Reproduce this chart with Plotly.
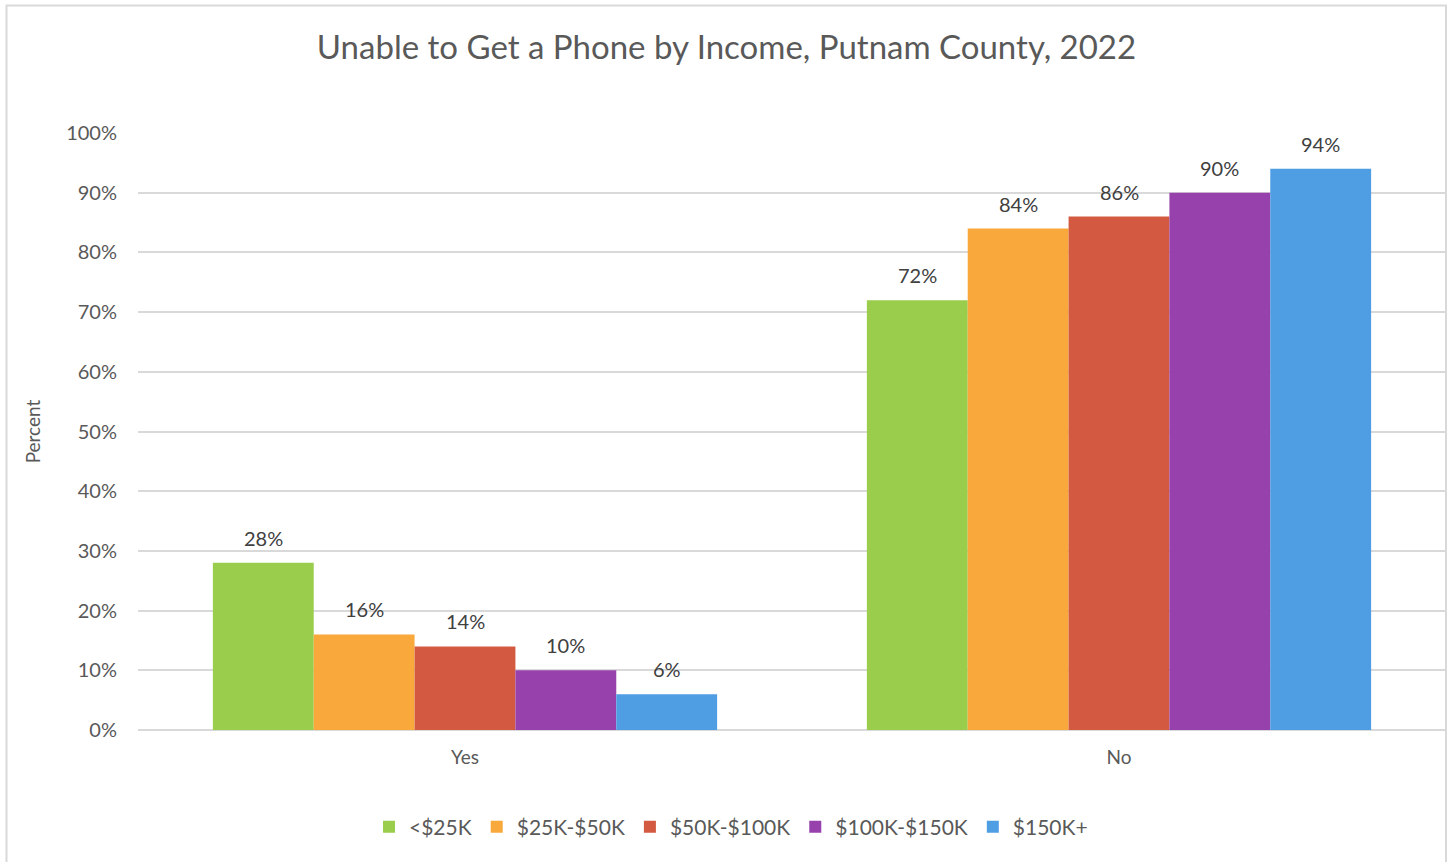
import plotly.graph_objects as go

categories = ["Yes", "No"]
series_names = ["<$25K", "$25K-$50K", "$50K-$100K", "$100K-$150K", "$150K+"]
val_lt25 = [0.28, 0.72]
val_25_50 = [0.16, 0.84]
val_50_100 = [0.14, 0.86]
val_100_150 = [0.10, 0.90]
val_150p = [0.06, 0.94]
series_values = [val_lt25, val_25_50, val_50_100, val_100_150, val_150p]
colors = ["#9BCD4D", "#F9A83B", "#D35A40", "#9741AD", "#4F9DE3"]
y_ticks = [0, 0.1, 0.2, 0.3, 0.4, 0.5, 0.6, 0.7, 0.8, 0.9, 1.0]
y_tick_labels = ["0%", "10%", "20%", "30%", "40%", "50%", "60%", "70%", "80%", "90%", "100%"]

FONT = "Lato"
TXT = "#595959"

W, H = 1453, 862
L, R, T, B = 138, 7, 133, 132
pw, ph = W - L - R, H - T - B
BARGAP = 0.229
n = len(series_names)
bar_px = pw / len(categories) * (1 - BARGAP) / n

def px(x):
    return (x - L) / pw

def py(y):
    return (H - B - y) / ph

fig = go.Figure()
annotations = []
for j, (name, vals, col) in enumerate(zip(series_names, series_values, colors)):
    fig.add_trace(go.Bar(
        name=name, x=categories, y=vals, marker=dict(color=col, line=dict(width=0)),
    ))
    for cat, v in zip(categories, vals):
        annotations.append(dict(
            x=cat, y=v, xref="x", yref="y", text=f"{round(v*100)}%", showarrow=False,
            xanchor="center", yanchor="middle", xshift=(j - (n - 1) / 2) * bar_px, yshift=25,
            font=dict(family=FONT, size=20, color="#404040"),
        ))

fig.update_layout(
    width=W, height=H,
    margin=dict(l=L, r=R, t=T, b=B),
    paper_bgcolor="white", plot_bgcolor="white",
    barmode="group", bargap=BARGAP, bargroupgap=0,
    title=dict(text="Unable to Get a Phone by Income, Putnam County, 2022",
               x=0.5, xanchor="center", y=1 - 47 / H, yanchor="middle",
               font=dict(family=FONT, size=33, color=TXT)),
    font=dict(family=FONT, color=TXT),
    legend=dict(orientation="h", x=px(731), xanchor="center", y=py(827), yanchor="middle",
                font=dict(family=FONT, size=21, color=TXT), itemwidth=30,
                traceorder="normal"),
    xaxis=dict(showgrid=False, tickfont=dict(family=FONT, size=19, color=TXT),
               showline=False, ticks="", ticklabelstandoff=14),
    yaxis=dict(range=[0, 1], tickvals=y_ticks, ticktext=y_tick_labels,
               showgrid=True, gridcolor="#D9D9D9", gridwidth=1.5,
               zeroline=True, zerolinecolor="#D9D9D9", zerolinewidth=1.5,
               tickfont=dict(family=FONT, size=20, color=TXT), ticks="", ticklabelstandoff=20,
               title=dict(text="Percent", font=dict(family=FONT, size=19, color=TXT), standoff=20)),
    annotations=annotations,
    shapes=[dict(type="rect", xref="paper", yref="paper",
                 x0=px(6.5), x1=px(1446), y0=py(880), y1=py(5.5),
                 line=dict(color="#D9D9D9", width=2), fillcolor="rgba(0,0,0,0)", layer="below")],
)

fig.write_html("out.html", config={"displayModeBar": False},
               post_script="document.body.style.margin='0';")
